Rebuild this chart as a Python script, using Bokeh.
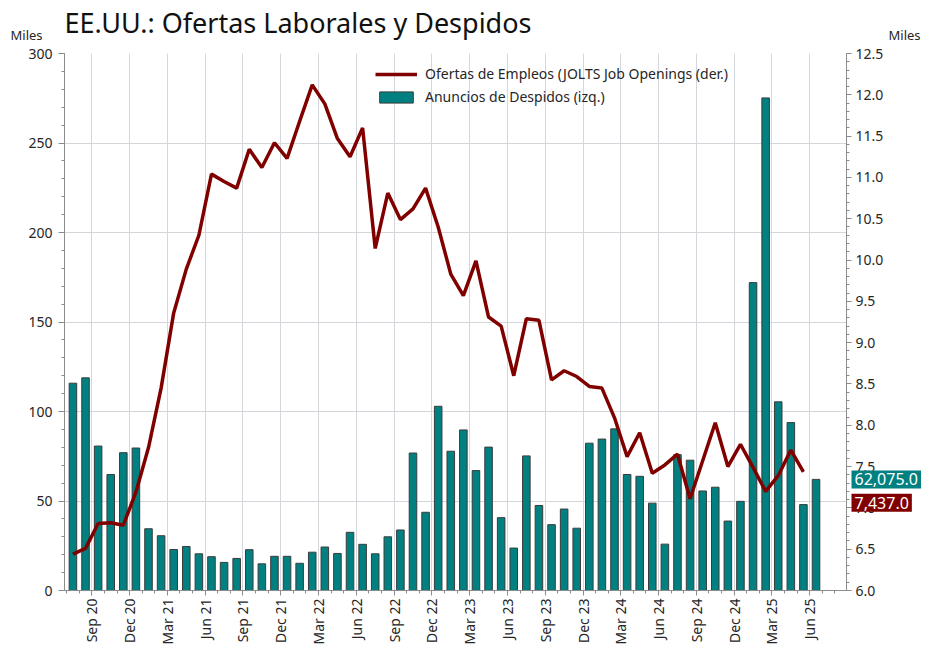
import math
import pandas as pd
from bokeh.plotting import figure
from bokeh.models import (Range1d, LinearAxis, FixedTicker, SingleIntervalTicker,
                          NumeralTickFormatter, Legend, LegendItem)
from bokeh.core.properties import value
from bokeh.embed import file_html
from bokeh.resources import INLINE

# ---------------- data ----------------
months = [d.strftime("%b %y") for d in pd.date_range("2020-08-01", periods=60, freq="MS")]

# Anuncios de despidos (miles), Aug 2020 .. Jul 2025
layoffs = [115.8, 118.8, 80.7, 64.8, 77.0, 79.6, 34.5, 30.6, 22.9, 24.6,
           20.5, 18.9, 15.7, 17.9, 22.8, 14.9, 19.1, 19.1, 15.2, 21.4,
           24.3, 20.7, 32.5, 25.8, 20.5, 30.0, 33.8, 76.8, 43.7, 102.9,
           77.8, 89.7, 67.0, 80.1, 40.7, 23.7, 75.2, 47.5, 36.8, 45.5,
           34.8, 82.3, 84.6, 90.3, 64.8, 63.8, 48.8, 25.9, 75.9, 72.8,
           55.6, 57.7, 38.8, 49.8, 172.0, 275.2, 105.4, 93.8, 48.0, 62.075]

# Ofertas de empleo JOLTS (millones), Aug 2020 .. Jun 2025
jolts = [6.44, 6.51, 6.81, 6.82, 6.79, 7.19, 7.73, 8.45, 9.36, 9.89,
         10.30, 11.04, 10.95, 10.87, 11.34, 11.12, 11.42, 11.23, 11.68, 12.12,
         11.89, 11.47, 11.25, 11.60, 10.14, 10.81, 10.49, 10.62, 10.87, 10.40,
         9.83, 9.57, 9.99, 9.31, 9.20, 8.60, 9.29, 9.27, 8.55, 8.66,
         8.59, 8.47, 8.45, 8.09, 7.62, 7.91, 7.42, 7.52, 7.65, 7.11,
         7.57, 8.03, 7.50, 7.77, 7.49, 7.20, 7.39, 7.70, 7.437]

tick_labels = ["Sep 20", "Dec 20", "Mar 21", "Jun 21", "Sep 21", "Dec 21", "Mar 22",
               "Jun 22", "Sep 22", "Dec 22", "Mar 23", "Jun 23", "Sep 23", "Dec 23",
               "Mar 24", "Jun 24", "Sep 24", "Dec 24", "Mar 25", "Jun 25"]

title_text = "EE.UU.:  Ofertas Laborales y Despidos"
line_name = "Ofertas de Empleos (JOLTS Job Openings (der.)"
bar_name = "Anuncios de Despidos (izq.)"
unit_text = "Miles"

# ---------------- styling ----------------
FONT = "Noto Sans"
TEAL = "#008080"
RED = "#800000"
GRID = "#d3d7db"
AXIS = "#8c8c8c"
TXT = "#262626"

x = list(range(len(months)))
x_start, x_end = -0.67, 61.42
y_left = (0, 300)
y_right = (6, 12.5)

p = figure(frame_width=782, frame_height=537,
           min_border_left=64, min_border_right=84, min_border_top=53, min_border_bottom=65,
           x_range=Range1d(x_start, x_end), y_range=Range1d(*y_left),
           title=None, output_backend="svg", toolbar_location=None)
p.extra_y_ranges = {"right": Range1d(*y_right)}
p.outline_line_color = None
p.background_fill_color = "white"
p.border_fill_color = "white"

# x axis
tick_pos = [months.index(t) + 0.5 for t in tick_labels]
minor_pos = [k + 0.5 for k in range(-1, len(months) + 1)]
xa = p.xaxis[0]
xa.ticker = FixedTicker(ticks=tick_pos, minor_ticks=minor_pos)
xa.major_label_overrides = {pos: lbl for pos, lbl in zip(tick_pos, tick_labels)}
xa.major_label_orientation = math.pi / 2
xa.major_label_standoff = 3
xa.major_tick_in = 0
xa.major_tick_out = 5
xa.minor_tick_in = 0
xa.minor_tick_out = 3

# left axis
ya = p.yaxis[0]
ya.ticker = SingleIntervalTicker(interval=50, num_minor_ticks=5)
ya.major_tick_in = 0
ya.major_tick_out = 6
ya.minor_tick_in = 0
ya.minor_tick_out = 3
ya.major_label_standoff = 6

# right axis
ra = LinearAxis(y_range_name="right",
                ticker=SingleIntervalTicker(interval=0.5, num_minor_ticks=5),
                formatter=NumeralTickFormatter(format="0.0"))
ra.major_tick_in = 0
ra.major_tick_out = 5
ra.minor_tick_in = 0
ra.minor_tick_out = 3
ra.major_label_standoff = 4
p.add_layout(ra, "right")

for ax in (xa, ya, ra):
    ax.axis_line_color = AXIS
    ax.major_tick_line_color = AXIS
    ax.minor_tick_line_color = AXIS
    ax.major_label_text_font = FONT
    ax.major_label_text_font_size = "14px"
    ax.major_label_text_color = TXT

p.xgrid.grid_line_color = GRID
p.ygrid.grid_line_color = GRID

# ---------------- glyphs ----------------
r_bar = p.vbar(x=x, top=layoffs, width=0.6, fill_color=TEAL,
               line_color="#3c3c3c", line_width=1)
r_line = p.line(x=x[:len(jolts)], y=jolts, y_range_name="right",
                line_color=RED, line_width=3.5)

legend = Legend(items=[LegendItem(label=line_name, renderers=[r_line]),
                       LegendItem(label=bar_name, renderers=[r_bar])],
                location=(311, 484))
legend.background_fill_alpha = 0
legend.border_line_alpha = 0
legend.glyph_width = 42
legend.glyph_height = 14
legend.label_height = 18
legend.spacing = 4
legend.padding = 0
legend.margin = 0
legend.label_standoff = 8
legend.label_text_font = FONT
legend.label_text_font_size = "14px"
legend.label_text_color = TXT
p.add_layout(legend)

# ---------------- texts outside the frame (overlay level) ----------------
p.text(x=[x_start], y=[y_left[1]], text=[title_text], x_offset=0, y_offset=-31,
       text_font=value(FONT), text_font_size="27px", text_color="#111111",
       text_baseline="middle", text_align="left", level="overlay")
p.text(x=[x_start], y=[y_left[1]], text=[unit_text], x_offset=-54, y_offset=-19,
       text_font=value(FONT), text_font_size="13px", text_color=TXT,
       text_baseline="middle", text_align="left", level="overlay")
p.text(x=[x_end], y=[y_left[1]], text=[unit_text], x_offset=42, y_offset=-19,
       text_font=value(FONT), text_font_size="13px", text_color=TXT,
       text_baseline="middle", text_align="left", level="overlay")

p.text(x=[x_end], y=[layoffs[-1]], text=[f"{layoffs[-1] * 1000:,.1f}"], x_offset=5,
       text_font=value(FONT), text_font_size="16px", text_color="white",
       text_baseline="middle", text_align="left",
       background_fill_color=TEAL, padding=3, level="overlay")
p.text(x=[x_end], y=[jolts[-1]], y_range_name="right", text=[f"{jolts[-1] * 1000:,.1f}"],
       x_offset=5, y_offset=31,
       text_font=value(FONT), text_font_size="16px", text_color="white",
       text_baseline="middle", text_align="left",
       background_fill_color=RED, padding=3, level="overlay")

open("out.html", "w").write(file_html(p, INLINE))
